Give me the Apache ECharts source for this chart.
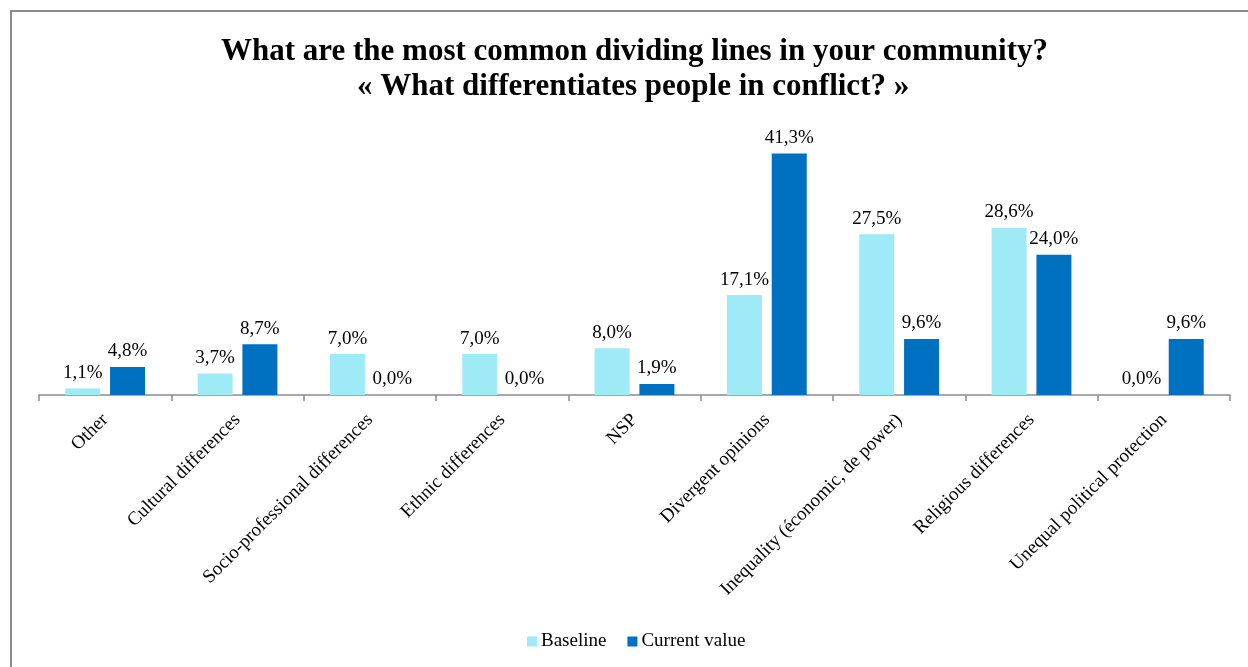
<!DOCTYPE html>
<html>
<head>
<meta charset="utf-8">
<script src="https://cdn.jsdelivr.net/npm/echarts@6/dist/echarts.min.js"></script>
<style>
  html, body { margin: 0; padding: 0; background: #fff; }
  #chart { width: 1248px; height: 667px; }
</style>
</head>
<body>
<div id="chart"></div>
<script>
// Survey answers: share of responses per dividing line (%)
const categories = [
  'Other',
  'Cultural differences',
  'Socio-professional differences',
  'Ethnic differences',
  'NSP',
  'Divergent opinions',
  'Inequality (économic, de power)',
  'Religious differences',
  'Unequal political protection'
];
const baseline = [1.1, 3.7, 7.0, 7.0, 8.0, 17.1, 27.5, 28.6, 0.0];
const currentValue = [4.8, 8.7, 0.0, 0.0, 1.9, 41.3, 9.6, 24.0, 9.6];
const titleLines = [
  'What are the most common dividing lines in your community?',
  '« What differentiates people in conflict? »'
];

const serif = '"Liberation Serif", "DejaVu Serif", serif';

const labelFmt = p => p.value.toFixed(1).replace('.', ',') + '%';

const titleStyle = {
  fontFamily: serif,
  fontWeight: 'bold',
  fontSize: 31,
  color: '#000'
};

const valueLabel = {
  show: true,
  position: 'top',
  distance: 6,
  formatter: labelFmt,
  fontFamily: serif,
  fontSize: 19,
  color: '#000'
};

const chart = echarts.init(document.getElementById('chart'), null, { renderer: 'canvas' });
chart.setOption({
  backgroundColor: '#ffffff',
  animation: false,
  graphic: [{
    type: 'rect',
    shape: { x: 11, y: 11, width: 1250, height: 700 },
    style: { fill: 'none', stroke: '#8c8c8c', lineWidth: 2 },
    silent: true
  }],
  title: [
    { text: titleLines[0], left: 216, top: 31, textStyle: titleStyle },
    { text: titleLines[1], left: 352, top: 66, textStyle: titleStyle }
  ],
  legend: {
    bottom: 11,
    left: 522,
    itemWidth: 10,
    itemHeight: 10,
    itemGap: 21,
    icon: 'rect',
    textStyle: { fontFamily: serif, fontSize: 19, color: '#000', padding: [0, 0, 0, -1] },
    data: ['Baseline', 'Current value']
  },
  grid: { left: 39, right: 18, top: 132, bottom: 272, containLabel: false },
  xAxis: {
    type: 'category',
    data: categories,
    axisLine: { lineStyle: { color: '#8c8c8c', width: 1.5 } },
    axisTick: { show: true, length: 6, lineStyle: { color: '#8c8c8c', width: 1.5 } },
    axisLabel: {
      interval: 0,
      rotate: 45,
      margin: 22,
      fontFamily: serif,
      fontSize: 19,
      color: '#000'
    }
  },
  yAxis: {
    type: 'value',
    min: 0,
    max: 45,
    show: false,
    splitLine: { show: false }
  },
  series: [
    {
      name: 'Baseline',
      type: 'bar',
      data: baseline,
      barWidth: 35,
      barGap: '28%',
      itemStyle: { color: '#9eeaf6' },
      label: valueLabel
    },
    {
      name: 'Current value',
      type: 'bar',
      data: currentValue,
      barWidth: 35,
      itemStyle: { color: '#0070c0' },
      label: valueLabel
    }
  ]
});
</script>
</body>
</html>
